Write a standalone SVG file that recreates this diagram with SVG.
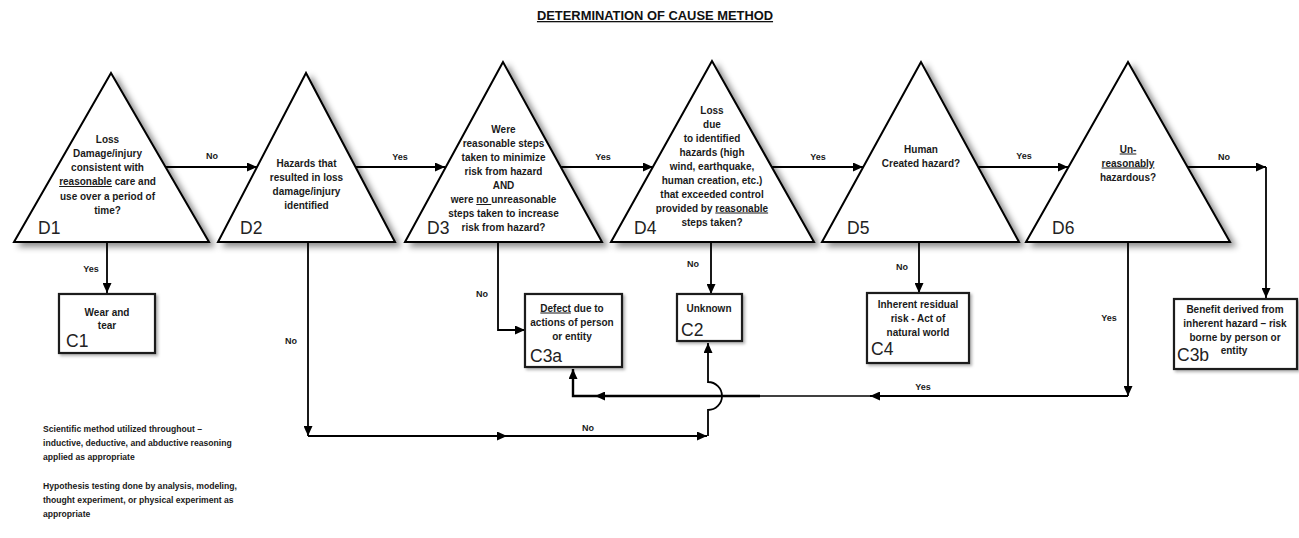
<svg xmlns="http://www.w3.org/2000/svg" width="1299" height="538" viewBox="0 0 1299 538">
<style>
.tri{fill:#fff;stroke:#000;stroke-width:2;stroke-linejoin:miter;filter:url(#sh)}
.box{fill:#fff;stroke:#1a1a1a;stroke-width:2.2;filter:url(#shs)}
.t{font-family:"Liberation Sans",Arial,sans-serif;font-weight:bold;font-size:10px;fill:#1a1a1a;text-anchor:middle}
.lbl{font-family:"Liberation Sans",Arial,sans-serif;font-weight:bold;font-size:9px;fill:#1a1a1a;text-anchor:middle}
.big{font-family:"Liberation Sans",Arial,sans-serif;font-size:17.5px;fill:#222}
.note{font-family:"Liberation Sans",Arial,sans-serif;font-weight:bold;font-size:8.6px;fill:#1a1a1a}
.title{font-family:"Liberation Sans",Arial,sans-serif;font-weight:bold;font-size:12.9px;fill:#111;text-anchor:middle;text-decoration:underline}
.u{text-decoration:underline}
.c{stroke:#000;stroke-width:1.8;fill:none}
.ce{stroke:#000;stroke-width:1.8;fill:none;marker-end:url(#ah)}
</style>
<defs>
<filter id="sh" x="-15%" y="-15%" width="135%" height="135%">
<feDropShadow dx="5" dy="4" stdDeviation="3" flood-color="#000" flood-opacity="0.45"/>
</filter>
<filter id="shs" x="-15%" y="-15%" width="135%" height="135%">
<feDropShadow dx="2" dy="2" stdDeviation="1.5" flood-color="#000" flood-opacity="0.3"/>
</filter>
<marker id="ah" markerUnits="userSpaceOnUse" markerWidth="10" markerHeight="9" refX="10" refY="4.5" orient="auto">
<path d="M0,0 L10,4.5 L0,9 z" fill="#000"/>
</marker>
</defs>

<text class="title" x="655" y="20">DETERMINATION OF CAUSE METHOD</text>

<g id="connectors">
<path class="ce" d="M166,167 L257,167"/>
<path class="ce" d="M356,167 L445,167"/>
<path class="ce" d="M561,167 L653,167"/>
<path class="ce" d="M772,167 L863,167"/>
<path class="ce" d="M978,167 L1068,167"/>
<path class="ce" d="M1187,167 L1266,167"/>
<path class="ce" d="M1266,167 L1266,298"/>
<path class="ce" d="M107,242 L107,293"/>
<path class="ce" d="M308,242 L308,436"/>
<path class="ce" d="M308,436 L507,436"/>
<path class="ce" d="M507,436 L707,436"/>
<path class="ce" d="M708,436 L708,410 A14,14 0 0 0 708,382 L708,343"/>
<path class="ce" d="M498,242 L498,330 L525,330"/>
<path class="ce" d="M711,242 L711,294"/>
<path class="ce" d="M919,242 L919,293"/>
<path class="ce" d="M1128,242 L1128,396"/>
<path class="ce" d="M1128,396 L870,396"/>
<path class="c" style="stroke-width:1.5" d="M870,396 L760,396"/>
<path class="ce" style="stroke-width:2.6" d="M760,396 L595,396"/>
<path class="ce" style="stroke-width:2.4" d="M595,396 L573,396 L573,369"/>
<text class="lbl" x="212" y="159">No</text>
<text class="lbl" x="400" y="160">Yes</text>
<text class="lbl" x="603" y="160">Yes</text>
<text class="lbl" x="818" y="160">Yes</text>
<text class="lbl" x="1024" y="159">Yes</text>
<text class="lbl" x="1224" y="160">No</text>
<text class="lbl" x="91" y="272">Yes</text>
<text class="lbl" x="291" y="344">No</text>
<text class="lbl" x="482" y="297">No</text>
<text class="lbl" x="693" y="267">No</text>
<text class="lbl" x="902" y="270">No</text>
<text class="lbl" x="1109" y="321">Yes</text>
<text class="lbl" x="923" y="390">Yes</text>
<text class="lbl" x="588" y="431">No</text>
</g>

<g id="D1">
<polygon class="tri" points="111,73 14,242 209,242"/>
<text class="t" x="107.5" y="142.5">Loss</text>
<text class="t" x="107.5" y="156.5">Damage/injury</text>
<text class="t" x="107.5" y="171">consistent with</text>
<text class="t" x="107.5" y="185"><tspan class="u">reasonable</tspan> care and</text>
<text class="t" x="107.5" y="199.5">use over a period of</text>
<text class="t" x="107.5" y="213.5">time?</text>
<text class="big" x="38" y="234">D1</text>
</g>

<g id="D2">
<polygon class="tri" points="306,73 218,242 395,242"/>
<text class="t" x="306.5" y="167">Hazards that</text>
<text class="t" x="306.5" y="181">resulted in loss</text>
<text class="t" x="306.5" y="195">damage/injury</text>
<text class="t" x="306.5" y="209">identified</text>
<text class="big" x="240" y="234">D2</text>
</g>

<g id="D3">
<polygon class="tri" points="503,62 405,242 602,242"/>
<text class="t" x="503.5" y="132.5">Were</text>
<text class="t" x="503.5" y="147">reasonable steps</text>
<text class="t" x="503.5" y="161">taken to minimize</text>
<text class="t" x="503.5" y="175">risk from hazard</text>
<text class="t" x="503.5" y="189">AND</text>
<text class="t" x="503.5" y="203">were <tspan class="u">no </tspan>unreasonable</text>
<text class="t" x="503.5" y="217">steps taken to increase</text>
<text class="t" x="503.5" y="231">risk from hazard?</text>
<text class="big" x="427" y="234">D3</text>
</g>

<g id="D4">
<polygon class="tri" points="712,61 611,242 814,242"/>
<text class="t" x="712" y="113.5">Loss</text>
<text class="t" x="712" y="127.5">due</text>
<text class="t" x="712" y="141.5">to identified</text>
<text class="t" x="712" y="155.5">hazards (high</text>
<text class="t" x="712" y="169.5">wind, earthquake,</text>
<text class="t" x="712" y="183.5">human creation, etc.)</text>
<text class="t" x="712" y="197.5">that exceeded control</text>
<text class="t" x="712" y="211.5">provided by <tspan class="u">reasonable</tspan></text>
<text class="t" x="712" y="225.5">steps taken?</text>
<text class="big" x="634" y="234">D4</text>
</g>

<g id="D5">
<polygon class="tri" points="921,62 822,242 1019,242"/>
<text class="t" x="921" y="152.5">Human</text>
<text class="t" x="921" y="167">Created hazard?</text>
<text class="big" x="847" y="234">D5</text>
</g>

<g id="D6">
<polygon class="tri" points="1128,62 1026,242 1230,242"/>
<text class="t" x="1128" y="152.5"><tspan class="u">Un-</tspan></text>
<text class="t" x="1128" y="166.5"><tspan class="u">reasonably</tspan></text>
<text class="t" x="1128" y="180.5">hazardous?</text>
<text class="big" x="1052" y="234">D6</text>
</g>

<g id="C1">
<rect class="box" x="59" y="294" width="96" height="59"/>
<text class="t" x="107" y="315.5">Wear and</text>
<text class="t" x="107" y="329">tear</text>
<text class="big" x="66" y="347">C1</text>
</g>

<g id="C3a">
<rect class="box" x="525" y="294" width="97" height="73"/>
<text class="t" x="572" y="311.5"><tspan class="u">Defect</tspan> due to</text>
<text class="t" x="572" y="325.5">actions of person</text>
<text class="t" x="572" y="340">or entity</text>
<text class="big" x="530" y="362">C3a</text>
</g>

<g id="C2">
<rect class="box" x="677" y="294" width="65" height="47"/>
<text class="t" x="709" y="311.5">Unknown</text>
<text class="big" x="681" y="336">C2</text>
</g>

<g id="C4">
<rect class="box" x="867" y="293" width="102" height="70"/>
<text class="t" x="918" y="307.5">Inherent residual</text>
<text class="t" x="918" y="321.5">risk - Act of</text>
<text class="t" x="918" y="335.5">natural world</text>
<text class="big" x="871" y="355">C4</text>
</g>

<g id="C3b">
<rect class="box" x="1174" y="299" width="123" height="70"/>
<text class="t" x="1235" y="312.5">Benefit derived from</text>
<text class="t" x="1235" y="326.5">inherent hazard – risk</text>
<text class="t" x="1235" y="340.5">borne by person or</text>
<text class="t" x="1234" y="354">entity</text>
<text class="big" x="1177" y="361">C3b</text>
</g>

<g id="notes">
<text class="note" x="43" y="432">Scientific method utilized throughout –</text>
<text class="note" x="43" y="446">inductive, deductive, and abductive reasoning</text>
<text class="note" x="43" y="460">applied as appropriate</text>
<text class="note" x="43" y="489">Hypothesis testing done by analysis, modeling,</text>
<text class="note" x="43" y="503">thought experiment, or physical experiment as</text>
<text class="note" x="43" y="517">appropriate</text>
</g>
</svg>
